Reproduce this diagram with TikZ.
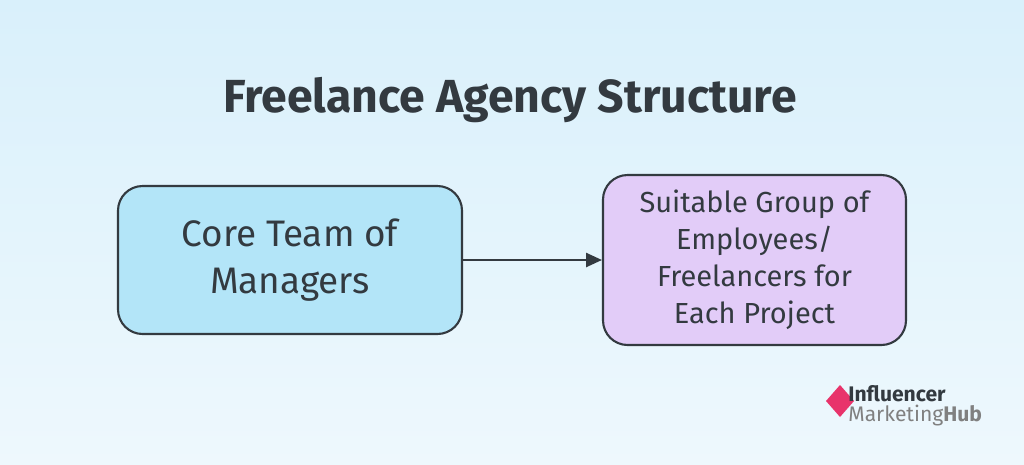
\documentclass[tikz,border=0pt]{standalone}
\usepackage{fontspec}
\setmainfont{Fira Sans}
\usetikzlibrary{positioning,arrows.meta}
\definecolor{bgtop}{HTML}{D9F0FB}
\definecolor{bgbot}{HTML}{EEF8FD}
\definecolor{coreblue}{HTML}{B3E5F8}
\definecolor{grouplilac}{HTML}{E2CCF8}
\definecolor{inkdark}{HTML}{333A40}
\definecolor{logopink}{HTML}{E8336B}
\begin{document}
\begin{tikzpicture}
  [x=0.02cm, y=-0.02cm,
  box/.style={draw=inkdark, line width=1.2pt, rounded corners=14pt,
    align=center, text=inkdark, inner sep=0pt},
  link/.style={draw=inkdark, line width=1.1pt, -{Triangle[length=9pt,width=8pt]}}]
  \shade[top color=bgtop, bottom color=bgbot] (0,0) rectangle (1024,464);
  \useasboundingbox (0,0) rectangle (1024,464);
  \node (title) at (510,100) [text=inkdark, font=\fontsize{26.4}{30}\selectfont\bfseries] {Freelance Agency Structure};
  \node (core) at (290,260) [box, fill=coreblue, minimum width=344*0.02cm, minimum height=148*0.02cm,
    font=\fontsize{21}{27}\selectfont] {Core Team of\\Managers};
  \node (group) at (754.5,260) [box, fill=grouplilac, minimum width=303*0.02cm, minimum height=170*0.02cm,
    font=\fontsize{16.5}{21}\selectfont] {Suitable Group of\\Employees/\\Freelancers for\\Each Project};
  \draw[link] (core) -- (group);
  % logo
  \fill[logopink] (840,385) -- (854,401) -- (840,417) -- (826,401) -- cycle;
  \node (logotop) at (848,394) [anchor=west, inner sep=0pt, text=inkdark, font=\fontsize{12}{13}\selectfont\bfseries] {Influencer};
  \node (logobot) [below=1pt of logotop.south west, anchor=north west, inner sep=0pt, text=gray, font=\fontsize{12}{13}\selectfont] {Marketing\textbf{Hub}};
\end{tikzpicture}
\end{document}
